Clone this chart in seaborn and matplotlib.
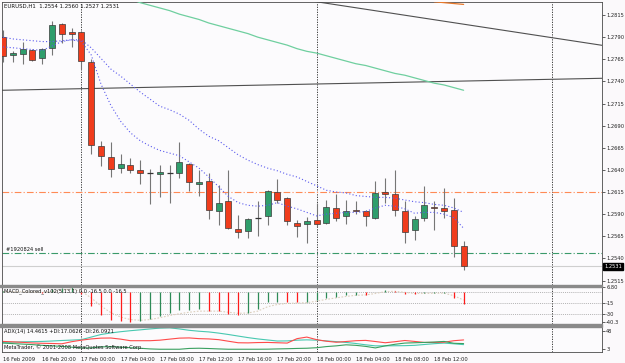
import numpy as np
import pandas as pd
import seaborn as sns
import matplotlib
matplotlib.use("Agg")
import matplotlib.pyplot as plt
import matplotlib.transforms as mtransforms
from matplotlib.patches import Rectangle

# EURUSD H1, 16 Feb 16:00 .. 18 Feb 15:00 (bar index 0..47)
opens = [1.2790, 1.2770, 1.2771, 1.2775, 1.2766, 1.2778, 1.2805, 1.2796, 1.2796, 1.2762,
         1.2667, 1.2655, 1.2642, 1.2646, 1.2640, 1.2637, 1.2635, 1.2637, 1.2636, 1.2647,
         1.2624, 1.2628, 1.2594, 1.2605, 1.2573, 1.2571, 1.2586, 1.2588, 1.2615, 1.2608,
         1.2580, 1.2579, 1.2583, 1.2580, 1.2597, 1.2588, 1.2595, 1.2593, 1.2586, 1.2615,
         1.2613, 1.2594, 1.2572, 1.2586, 1.2598, 1.2597, 1.2595, 1.2554]
highs = [1.2798, 1.2774, 1.2784, 1.2777, 1.2778, 1.2808, 1.2806, 1.2800, 1.2797, 1.2765,
         1.2673, 1.2672, 1.2658, 1.2653, 1.2651, 1.2641, 1.2646, 1.2646, 1.2672, 1.2648,
         1.2640, 1.2637, 1.2623, 1.2640, 1.2589, 1.2586, 1.2605, 1.2617, 1.2630, 1.2609,
         1.2583, 1.2587, 1.2603, 1.2606, 1.2613, 1.2606, 1.2605, 1.2595, 1.2627, 1.2631,
         1.2640, 1.2605, 1.2588, 1.2622, 1.2605, 1.2619, 1.2608, 1.2560]
lows = [1.2762, 1.2762, 1.2760, 1.2763, 1.2760, 1.2770, 1.2783, 1.2779, 1.2754, 1.2658,
        1.2644, 1.2632, 1.2637, 1.2636, 1.2624, 1.2601, 1.2609, 1.2603, 1.2631, 1.2616,
        1.2610, 1.2584, 1.2578, 1.2573, 1.2563, 1.2563, 1.2565, 1.2578, 1.2603, 1.2578,
        1.2564, 1.2557, 1.2575, 1.2579, 1.2582, 1.2579, 1.2590, 1.2577, 1.2584, 1.2603,
        1.2588, 1.2557, 1.2561, 1.2582, 1.2572, 1.2586, 1.2542, 1.2527]
closes = [1.2769, 1.2772, 1.2777, 1.2764, 1.2777, 1.2804, 1.2794, 1.2794, 1.2763, 1.2668,
          1.2656, 1.2641, 1.2647, 1.2640, 1.2636, 1.2637, 1.2638, 1.2637, 1.2649, 1.2626,
          1.2626, 1.2595, 1.2603, 1.2574, 1.2570, 1.2585, 1.2586, 1.2616, 1.2606, 1.2582,
          1.2577, 1.2582, 1.2579, 1.2598, 1.2586, 1.2594, 1.2593, 1.2588, 1.2614, 1.2613,
          1.2595, 1.2570, 1.2585, 1.2600, 1.2597, 1.2593, 1.2554, 1.2531]

# moving averages (blue dotted)
fast_ma = [1.2779, 1.2778, 1.2777, 1.2776, 1.2775, 1.2780, 1.2785, 1.2787, 1.2785, 1.2770,
           1.2737, 1.2713, 1.2695, 1.2682, 1.2673, 1.2667, 1.2662, 1.2659, 1.2656, 1.2649,
           1.2642, 1.2632, 1.2621, 1.2610, 1.2603, 1.2600, 1.2599, 1.2600, 1.2603, 1.2599,
           1.2596, 1.2592, 1.2588, 1.2590, 1.2591, 1.2592, 1.2592, 1.2593, 1.2597, 1.2600,
           1.2599, 1.2596, 1.2591, 1.2592, 1.2592, 1.2590, 1.2586, 1.2574]
slow_ma = [1.2790, 1.2788, 1.2787, 1.2786, 1.2785, 1.2785, 1.2786, 1.2787, 1.2787, 1.2778,
           1.2766, 1.2754, 1.2746, 1.2737, 1.2728, 1.2720, 1.2712, 1.2708, 1.2703, 1.2696,
           1.2686, 1.2678, 1.2673, 1.2665, 1.2657, 1.2651, 1.2646, 1.2642, 1.2639, 1.2635,
           1.2632, 1.2627, 1.2622, 1.2617, 1.2615, 1.2614, 1.2611, 1.2610, 1.2609, 1.2609,
           1.2608, 1.2606, 1.2604, 1.2603, 1.2601, 1.2600, 1.2597, 1.2592]
# long MA (green) from bar 13, short piece of orange MA at the top
long_ma_start = 13
long_ma = [1.2833, 1.2829, 1.2826, 1.2823, 1.2820, 1.2816, 1.2813, 1.2810, 1.2806, 1.2803,
           1.2800, 1.2797, 1.2794, 1.2790, 1.2787, 1.2784, 1.2781, 1.2777, 1.2774, 1.2772,
           1.2769, 1.2766, 1.2763, 1.2760, 1.2758, 1.2755, 1.2752, 1.2749, 1.2747, 1.2744,
           1.2741, 1.2738, 1.2736, 1.2733, 1.2730]
orange_ma_start = 44
orange_ma = [1.2830, 1.2829, 1.2828, 1.2827]

# trend lines (two anchor points: bar, price)
trend_flat = [(0, 1.2730), (61, 1.27435)]
trend_down = [(32, 1.2830), (61, 1.2781)]

stop_level = 1.2615
order_level = 1.2546
order_label = "#1920824 sell"
day_starts = [8, 32, 56]

# MACD_Colored_v102(5,13,1)
macd = [1.2, 0.6, 0.3, -0.4, -0.8, 3.5, 5.8, 6.8, -3.0, -19.7,
        -31.0, -38.5, -39.5, -40.3, -39.3, -36.5, -32.0, -28.5, -25.0, -24.0,
        -23.5, -25.5, -26.0, -29.5, -31.0, -28.0, -23.7, -13.8, -13.5, -13.8,
        -14.0, -13.8, -10.5, -8.0, -6.7, -4.7, -3.6, -4.0, -0.5, 2.5,
        1.0, -2.5, -3.0, -1.7, -1.5, -1.4, -8.0, -16.5]
macd_signal = [0.5, 0.5, 0.3, 0.0, -0.3, 0.8, 2.5, 4.0, 1.0, -8.0,
               -19.0, -28.0, -34.0, -37.5, -38.5, -37.5, -35.0, -32.0, -29.5, -27.5,
               -26.0, -26.0, -26.0, -27.5, -29.0, -28.5, -26.0, -20.0, -17.0, -15.5,
               -15.0, -14.5, -12.5, -10.0, -8.0, -6.0, -4.5, -4.0, -2.0, 0.5,
               1.0, -0.5, -2.0, -2.0, -1.7, -1.5, -5.0, -11.0]
macd_levels = [0, -15, -30]

# ADX(14)
adx_main = [19.9, 20.6, 21.4, 21.9, 22.4, 23.4, 24.7, 25.7, 26.8, 33.2,
            39.6, 43.4, 46.5, 49.0, 51.1, 53.4, 55.4, 56.2, 53.4, 50.0,
            47.7, 46.0, 43.1, 39.6, 35.7, 31.9, 28.6, 26.0, 23.4, 23.7,
            25.5, 26.3, 25.5, 23.7, 21.9, 19.9, 17.3, 14.0, 11.4, 11.4,
            11.7, 11.9, 12.7, 14.8, 16.8, 18.3, 16.5, 14.46]
adx_minus = [22.4, 21.4, 20.1, 18.6, 17.8, 17.3, 16.5, 21.7, 25.5, 28.6,
             30.6, 30.9, 28.1, 24.2, 24.2, 24.2, 25.5, 28.1, 30.6, 31.1,
             29.3, 28.6, 26.8, 22.9, 19.1, 18.8, 19.6, 19.9, 19.1, 18.3,
             29.3, 33.2, 26.8, 22.9, 20.4, 22.2, 24.2, 25.0, 22.2, 19.1,
             21.7, 24.7, 22.4, 19.9, 19.9, 20.4, 24.2, 26.09]
adx_plus = [18.3, 17.0, 15.8, 14.5, 12.7, 11.4, 10.1, 8.1, 6.3, 6.3,
            8.9, 9.4, 8.1, 6.8, 5.5, 3.8, 3.0, 3.0, 3.0, 5.0,
            5.5, 4.8, 3.8, 3.0, 3.0, 3.0, 3.0, 3.2, 3.8, 4.3,
            5.0, 5.5, 6.8, 9.6, 11.4, 14.0, 12.7, 10.1, 6.3, 11.4,
            15.3, 18.3, 19.1, 19.9, 20.9, 22.4, 17.8, 17.06]

time_label_bars = [0, 4, 8, 12, 16, 20, 24, 28, 32, 36, 40, 44]
time_labels = ["16 Feb 2009", "16 Feb 20:00", "17 Feb 00:00", "17 Feb 04:00", "17 Feb 08:00",
               "17 Feb 12:00", "17 Feb 16:00", "17 Feb 20:00", "18 Feb 00:00", "18 Feb 04:00",
               "18 Feb 08:00", "18 Feb 12:00"]
price_ticks = [1.2515, 1.2540, 1.2565, 1.2590, 1.2615, 1.2640, 1.2665, 1.2690,
               1.2715, 1.2740, 1.2765, 1.2790, 1.2815]

title_main = "EURUSD,H1  1.2554 1.2560 1.2527 1.2531"
title_macd = "MACD_Colored_v102(5,13,1) 0.0 -16.5 0.0 -16.5"
title_adx = "ADX(14) 14.4615 +DI:17.0626 -DI:26.0921"
copyright_txt = "MetaTrader, \u00a9 2001-2008 MetaQuotes Software Corp."

df = pd.DataFrame({"bar": np.arange(len(closes)), "open": opens, "high": highs,
                   "low": lows, "close": closes, "fast": fast_ma, "slow": slow_ma,
                   "macd": macd, "signal": macd_signal,
                   "adx": adx_main, "minus_di": adx_minus, "plus_di": adx_plus})

sns.set_style("white")
plt.rcParams['font.family'] = ['DejaVu Sans']

W, H = 625, 363


def px_rect(x0, y0, x1, y1):
    return [x0 / W, 1 - y1 / H, (x1 - x0) / W, (y1 - y0) / H]


fig = plt.figure(figsize=(W / 100, H / 100), dpi=100, facecolor='#fbf9fb')
ax = fig.add_axes(px_rect(2, 1.5, 602, 284.5))
ax_macd = fig.add_axes(px_rect(2, 287, 602, 324))
ax_adx = fig.add_axes(px_rect(2, 326.8, 602, 351.5))

FS = 3.7
frame = '#4a4a4a'
for a in (ax, ax_macd, ax_adx):
    a.set_facecolor('#fcfbfd')
    a.set_xlim(-0.1, 61.12)
    for s in a.spines.values():
        s.set_color(frame)
        s.set_linewidth(0.6)
    a.yaxis.tick_right()
    a.tick_params(axis='y', length=2, width=0.5, pad=1, labelsize=FS, colors='#222222')
    for d in day_starts:
        a.axvline(d, color='#222222', lw=0.6, ls=(0, (1.5, 1.5)), zorder=1)
ax.set_xticks([])
ax_macd.set_xticks([])

# ---- main price panel
ax.set_ylim(1.25105, 1.28303)
ax.set_yticks(price_ticks)
ax.set_yticklabels([f"{p:.4f}" for p in price_ticks])

ax.axline(trend_flat[0], trend_flat[1], color='#505050', lw=0.8, zorder=2)
ax.axline(trend_down[0], trend_down[1], color='#505050', lw=0.8, zorder=2)
ax.axhline(stop_level, color='#ff8a55', lw=0.8, ls=(0, (6, 2, 1, 2)), zorder=2)
ax.axhline(order_level, color='#3a9a6a', lw=0.8, ls=(0, (6, 2, 1, 2)), zorder=2)
ax.axhline(closes[-1], color='#cfcfcf', lw=0.8, zorder=2)
ax.text(0.3, order_level + 0.00012, order_label, fontsize=FS, color='#111111', va='bottom')

sns.lineplot(x=np.arange(long_ma_start, long_ma_start + len(long_ma)), y=long_ma, ax=ax,
             color='#6fcf9f', lw=0.9, zorder=3)
sns.lineplot(x=np.arange(orange_ma_start, orange_ma_start + len(orange_ma)), y=orange_ma,
             ax=ax, color='#e8782a', lw=0.9, zorder=3)

o = df["open"].values
c = df["close"].values
bars = df["bar"].values
ax.vlines(bars, df["low"], df["high"], color='#767676', lw=0.8, zorder=4)
doji = np.isclose(o, c)
body_col = np.where(c > o, '#2f9e6c', '#f03c1c')
ax.bar(bars[~doji], np.abs(c - o)[~doji], bottom=np.minimum(o, c)[~doji], width=0.62,
       color=body_col[~doji], edgecolor='#3a3a3a', linewidth=0.5, zorder=5)
ax.hlines(c[doji], bars[doji] - 0.31, bars[doji] + 0.31, color='#333333', lw=0.9, zorder=5)

sns.lineplot(data=df, x="bar", y="fast", ax=ax, color='#5a5aee', lw=0.8,
             linestyle=(0, (1, 2)), zorder=6)
sns.lineplot(data=df, x="bar", y="slow", ax=ax, color='#5a5aee', lw=0.8,
             linestyle=(0, (1, 2)), zorder=6)
ax.set_xlabel("")
ax.set_ylabel("")

ax.text(0.004, 0.993, title_main, transform=ax.transAxes, fontsize=3.9, va='top',
        ha='left', color='#111111')
bid_tr = mtransforms.blended_transform_factory(ax.transAxes, ax.transData)
ax.text(1.004, closes[-1], f"{closes[-1]:.4f}", transform=bid_tr, fontsize=FS,
        color='white', va='center', ha='left',
        bbox=dict(boxstyle='square,pad=0.25', fc='black', ec='black'))

# ---- MACD panel
ax_macd.set_ylim(-43.5, 6.5)
ax_macd.set_yticks([6.8, -15, -30, -40.3])
ax_macd.set_yticklabels(["6.80", "-15", "-30", "-40.3"])
for lv in macd_levels:
    ax_macd.axhline(lv, color='#9a9a9a', lw=0.5, ls=(0, (1.5, 1.5)), zorder=1)
mv = df["macd"].values
rising = np.r_[True, mv[1:] >= mv[:-1]]
ax_macd.vlines(bars, 0, mv, colors=np.where(rising, '#2e8b57', '#ff1a1a'), lw=0.9, zorder=3)
sns.lineplot(data=df, x="bar", y="signal", ax=ax_macd, color='#dccfbd', lw=0.8,
             linestyle=(0, (1.5, 1.5)), zorder=2)
ax_macd.set_xlabel("")
ax_macd.set_ylabel("")
ax_macd.text(0.004, 0.97, title_macd, transform=ax_macd.transAxes, fontsize=FS, va='top',
             ha='left', color='#111111')

# ---- ADX panel
ax_adx.set_ylim(-2.6, 58.7)
ax_adx.set_yticks([48, 3])
ax_adx.set_yticklabels(["48", "3"])
sns.lineplot(data=df, x="bar", y="adx", ax=ax_adx, color='#48c8b0', lw=0.8)
sns.lineplot(data=df, x="bar", y="minus_di", ax=ax_adx, color='#ff4a4a', lw=0.8)
sns.lineplot(data=df, x="bar", y="plus_di", ax=ax_adx, color='#3aa060', lw=0.8)
ax_adx.set_xlabel("")
ax_adx.set_ylabel("")
ax_adx.text(0.004, 0.93, title_adx, transform=ax_adx.transAxes, fontsize=FS, va='top',
            ha='left', color='#111111')
ax_adx.text(0.004, 0.05, copyright_txt, transform=ax_adx.transAxes, fontsize=FS,
            va='bottom', ha='left', color='#111111')
ax_adx.set_xticks(time_label_bars)
ax_adx.set_xticklabels(time_labels, ha='left')
ax_adx.tick_params(axis='x', length=2, width=0.5, pad=2, labelsize=FS, colors='#222222')

# grey separators between the indicator windows
for y0, y1 in [(284.5, 287), (324, 326.8)]:
    fig.add_artist(Rectangle((0, 1 - y1 / H), 602 / W, (y1 - y0) / H,
                             transform=fig.transFigure, color='#8a8a8a', zorder=10))

fig.savefig("out.png", dpi=100, facecolor=fig.get_facecolor())
